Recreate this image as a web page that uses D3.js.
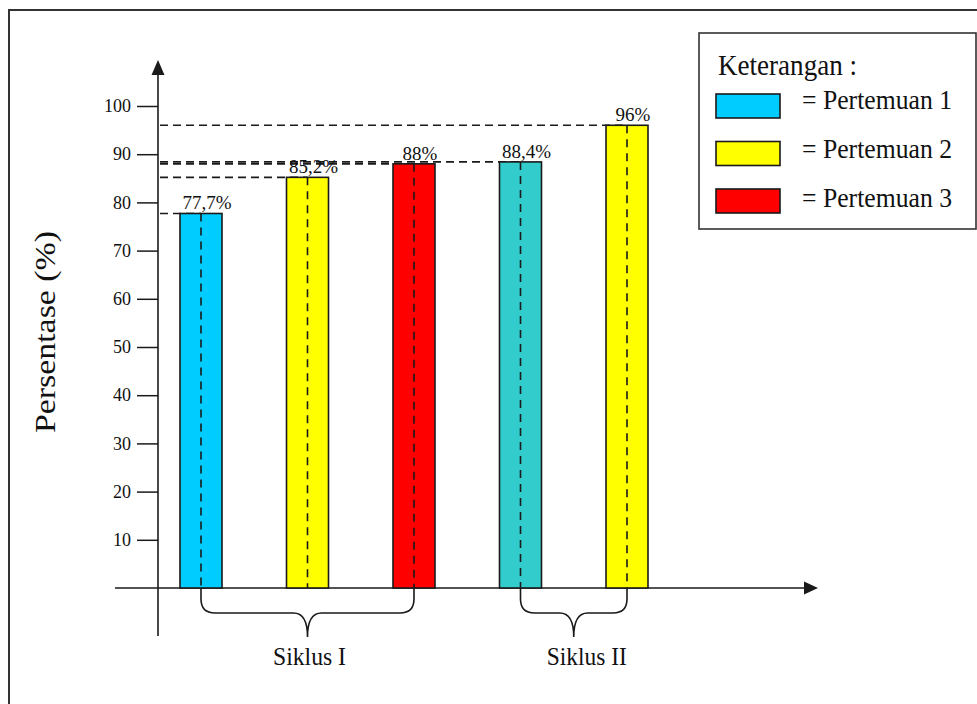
<!DOCTYPE html>
<html>
<head>
<meta charset="utf-8">
<script src="https://cdn.jsdelivr.net/npm/d3@7"></script>
<style>
  body { margin: 0; background: #fff; }
  svg { display: block; }
  text { font-family: "Liberation Serif", "Times New Roman", serif; fill: #111; }
</style>
</head>
<body>
<svg id="chart" width="977" height="704"></svg>
<script>
// Percentages per meeting, grouped by cycle
const categories = ["S1-P1", "S1-P2", "S1-P3", "S2-P1", "S2-P2"];
const values = [77.7, 85.2, 88, 88.4, 96];
const valueLabels = ["77,7%", "85,2%", "88%", "88,4%", "96%"];
const barColors = ["#00CCFF", "#FFFF00", "#FF0000", "#33CCCC", "#FFFF00"];
const cycleNames = ["Siklus I", "Siklus II"];
const cycleOf = [0, 0, 0, 1, 1];
const yTicks = [10, 20, 30, 40, 50, 60, 70, 80, 90, 100];
const legendTitle = "Keterangan :";
const legendLabels = ["= Pertemuan 1", "= Pertemuan 2", "= Pertemuan 3"];
const legendColors = ["#00CCFF", "#FFFF00", "#FF0000"];
const yTitle = "Persentase (%)";

const svg = d3.select("#chart");
const ink = "#1a1a1a";

// Outer frame
svg.append("rect")
  .attr("x", 9).attr("y", 10).attr("width", 1000).attr("height", 1000)
  .attr("fill", "none").attr("stroke", "#333").attr("stroke-width", 2);

const x0 = 158, y0 = 588;
const y = d3.scaleLinear().domain([0, 100]).range([y0, 106]);
const x = d3.scalePoint().domain(categories).range([201, 627]);
const barW = 42;

// Y axis ticks and labels
const yAxis = svg.append("g")
  .attr("transform", `translate(${x0},0)`)
  .call(d3.axisLeft(y).tickValues(yTicks).tickSize(21).tickPadding(6));
yAxis.select(".domain").remove();
yAxis.selectAll(".tick line").attr("stroke", ink).attr("stroke-width", 1.5);
yAxis.selectAll(".tick text")
  .style("font-family", '"Liberation Serif", serif')
  .attr("font-size", 18).attr("fill", "#111");

// Axis lines with arrowheads
svg.append("line").attr("x1", x0).attr("x2", x0).attr("y1", 636).attr("y2", 72)
  .attr("stroke", ink).attr("stroke-width", 1.6);
svg.append("path").attr("d", `M${x0},60 L${x0 - 6.5},75 L${x0 + 6.5},75 Z`).attr("fill", ink);
svg.append("line").attr("x1", 115).attr("x2", 806).attr("y1", y0).attr("y2", y0)
  .attr("stroke", ink).attr("stroke-width", 1.6);
svg.append("path").attr("d", `M818,${y0} L804,${y0 - 6.5} L804,${y0 + 6.5} Z`).attr("fill", ink);

// Horizontal dashed guides from the axis to each bar top
svg.append("g").selectAll("line").data(values).join("line")
  .attr("x1", x0 + 2).attr("x2", (d, i) => x(categories[i]))
  .attr("y1", d => y(d)).attr("y2", d => y(d))
  .attr("stroke", ink).attr("stroke-width", 1.6).attr("stroke-dasharray", "8,5");

// Bars
svg.append("g").selectAll("rect").data(values).join("rect")
  .attr("x", (d, i) => x(categories[i]) - barW / 2)
  .attr("y", d => y(d))
  .attr("width", barW)
  .attr("height", d => y0 - y(d))
  .attr("fill", (d, i) => barColors[i])
  .attr("stroke", ink).attr("stroke-width", 1.6);

// Vertical dashed centre lines inside bars
svg.append("g").selectAll("line").data(values).join("line")
  .attr("x1", (d, i) => x(categories[i])).attr("x2", (d, i) => x(categories[i]))
  .attr("y1", d => y(d)).attr("y2", y0)
  .attr("stroke", ink).attr("stroke-width", 1.6).attr("stroke-dasharray", "8,6");

// Value labels
svg.append("g").selectAll("text").data(values).join("text")
  .attr("x", (d, i) => x(categories[i]) + 6)
  .attr("y", d => y(d) - 4)
  .attr("text-anchor", "middle")
  .attr("font-size", 19)
  .text((d, i) => valueLabels[i]);

// Curly braces grouping the bars of each cycle
cycleNames.forEach((name, c) => {
  const xs = categories.filter((k, i) => cycleOf[i] === c).map(k => x(k));
  const x1 = d3.min(xs), x2 = d3.max(xs), xm = (x1 + x2) / 2;
  const yb = 613, yt = 637, r = 14;
  const p = d3.path();
  p.moveTo(x1, y0);
  p.lineTo(x1, yb - r);
  p.quadraticCurveTo(x1, yb, x1 + r, yb);
  p.lineTo(xm - r, yb);
  p.quadraticCurveTo(xm, yb, xm, yt);
  p.quadraticCurveTo(xm, yb, xm + r, yb);
  p.lineTo(x2 - r, yb);
  p.quadraticCurveTo(x2, yb, x2, yb - r);
  p.lineTo(x2, y0);
  svg.append("path").attr("d", p.toString())
    .attr("fill", "none").attr("stroke", ink).attr("stroke-width", 1.6);
  svg.append("text")
    .attr("x", xm + (c === 0 ? 2 : 13)).attr("y", 665)
    .attr("text-anchor", "middle")
    .attr("font-size", 26)
    .attr("textLength", c === 0 ? 73 : 80)
    .attr("lengthAdjust", "spacingAndGlyphs")
    .text(name);
});

// Y axis title
svg.append("text")
  .attr("transform", "translate(55,332) rotate(-90)")
  .attr("text-anchor", "middle")
  .attr("font-size", 29)
  .attr("textLength", 202)
  .attr("lengthAdjust", "spacingAndGlyphs")
  .text(yTitle);

// Legend
const lg = svg.append("g");
lg.append("rect")
  .attr("x", 699).attr("y", 33).attr("width", 277).attr("height", 196)
  .attr("fill", "#fff").attr("stroke", "#333").attr("stroke-width", 1.6);
lg.append("text")
  .attr("x", 718).attr("y", 75)
  .attr("font-size", 29)
  .attr("textLength", 139)
  .attr("lengthAdjust", "spacingAndGlyphs")
  .text(legendTitle);
lg.selectAll("rect.sw").data(legendColors).join("rect")
  .attr("class", "sw")
  .attr("x", 716).attr("y", (d, i) => 94 + i * 47.5)
  .attr("width", 64).attr("height", 24)
  .attr("fill", d => d).attr("stroke", ink).attr("stroke-width", 1.6);
lg.selectAll("text.lb").data(legendLabels).join("text")
  .attr("class", "lb")
  .attr("x", 802).attr("y", (d, i) => 109 + i * 49)
  .attr("font-size", 28)
  .attr("textLength", 150)
  .attr("lengthAdjust", "spacingAndGlyphs")
  .text(d => d);
</script>
</body>
</html>
